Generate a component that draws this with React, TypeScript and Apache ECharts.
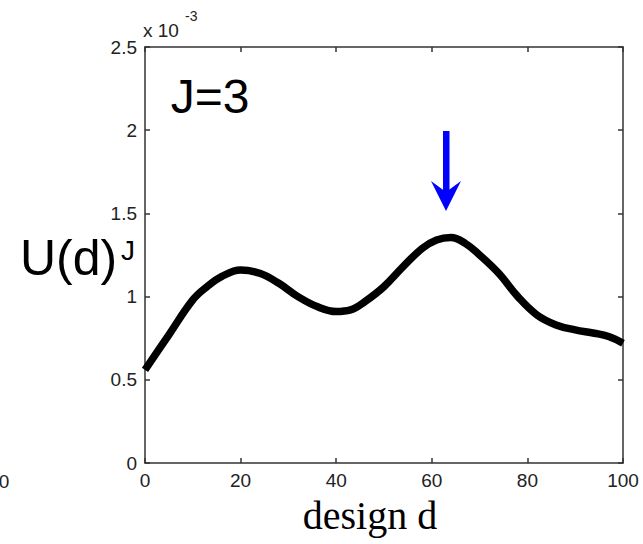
import React, { useEffect, useRef } from "react";
import * as echarts from "echarts";

// design d values and expected utility U(d)^J (in units of 1e-3)
const designD = [0, 5, 10, 13, 16, 20, 24, 28, 32, 36, 40, 43, 46, 50, 54, 58, 61, 64, 67, 70, 74, 78, 82, 86, 90, 94, 97, 100];
const utility = [0.56, 0.77, 0.98, 1.06, 1.12, 1.16, 1.14, 1.08, 1.0, 0.94, 0.91, 0.92, 0.97, 1.06, 1.18, 1.29, 1.34, 1.355, 1.32, 1.25, 1.14, 1.0, 0.89, 0.83, 0.8, 0.78, 0.76, 0.72];
const yTickLabels = ["0", "0.5", "1", "1.5", "2", "2.5"];
const xTickLabels = ["0", "20", "40", "60", "80", "100"];

const SANS = "'Liberation Sans', Arial, Helvetica, sans-serif";
const SERIF = "'Liberation Serif', 'Times New Roman', serif";

export default function App() {
  const ref = useRef<HTMLDivElement>(null);
  useEffect(() => {
    document.body.style.margin = "0";
    const chart = echarts.init(ref.current!, null, { renderer: "svg" });
    const axisColor = "#333";
    const lineStyle = { color: axisColor, width: 1.5 };
    const tickStyle = { show: true, inside: true, length: 5, lineStyle };
    const option: any = {
      animation: false,
      backgroundColor: "#fff",
      grid: { left: 145, top: 47, right: 20, bottom: 81, containLabel: false },
      xAxis: [
        {
          type: "value",
          min: 0,
          max: 100,
          interval: 20,
          position: "bottom",
          axisLine: { show: true, onZero: false, lineStyle },
          axisTick: tickStyle,
          splitLine: { show: false },
          axisLabel: {
            margin: 8,
            color: "#222",
            fontSize: 19,
            fontFamily: SANS,
            formatter: (v: number) => xTickLabels[Math.round(v / 20)] ?? "",
          },
        },
        {
          type: "value",
          min: 0,
          max: 100,
          interval: 20,
          position: "top",
          axisLine: { show: true, onZero: false, lineStyle },
          axisTick: tickStyle,
          splitLine: { show: false },
          axisLabel: { show: false },
        },
      ],
      yAxis: [
        {
          type: "value",
          min: 0,
          max: 2.5,
          interval: 0.5,
          position: "left",
          axisLine: { show: true, onZero: false, lineStyle },
          axisTick: tickStyle,
          splitLine: { show: false },
          axisLabel: {
            margin: 8,
            color: "#222",
            fontSize: 19,
            fontFamily: SANS,
            formatter: (v: number) => yTickLabels[Math.round(v / 0.5)] ?? "",
          },
        },
        {
          type: "value",
          min: 0,
          max: 2.5,
          interval: 0.5,
          position: "right",
          axisLine: { show: true, onZero: false, lineStyle },
          axisTick: tickStyle,
          splitLine: { show: false },
          axisLabel: { show: false },
        },
      ],
      series: [
        {
          type: "line",
          data: designD.map((d, i) => [d, utility[i]]),
          smooth: 0.4,
          showSymbol: false,
          lineStyle: { color: "#000", width: 7.5 },
          xAxisIndex: 0,
          yAxisIndex: 0,
        },
      ],
      graphic: [
        { type: "text", x: 143, y: 30, style: { text: "x 10", font: `19px ${SANS}`, fill: "#222", textAlign: "left", textVerticalAlign: "middle" } },
        { type: "text", x: 185, y: 15.5, style: { text: "-3", font: `14px ${SANS}`, fill: "#222", textAlign: "left", textVerticalAlign: "middle" } },
        { type: "text", x: 210, y: 96, style: { text: "J=3", font: `48px ${SANS}`, fill: "#000", textAlign: "center", textVerticalAlign: "middle" } },
        { type: "text", x: 20, y: 258, style: { text: "U(d)", font: `50px ${SANS}`, fill: "#000", textAlign: "left", textVerticalAlign: "middle" } },
        { type: "text", x: 121, y: 250, style: { text: "J", font: `28px ${SANS}`, fill: "#000", textAlign: "left", textVerticalAlign: "middle" } },
        { type: "text", x: 370, y: 515, style: { text: "design d", font: `40px ${SERIF}`, fill: "#000", textAlign: "center", textVerticalAlign: "middle" } },
        { type: "text", x: 4, y: 481, style: { text: "0", font: `19px ${SANS}`, fill: "#222", textAlign: "center", textVerticalAlign: "middle" } },
        { type: "rect", shape: { x: 443, y: 131, width: 6.5, height: 62 }, style: { fill: "#0000ff" } },
        { type: "polygon", shape: { points: [[431, 181], [446, 192], [461, 181], [446, 211]] }, style: { fill: "#0000ff" } },
      ],
    };
    chart.setOption(option);
    return () => chart.dispose();
  }, []);
  return <div ref={ref} style={{ position: "absolute", left: 0, top: 0, width: 643, height: 544 }} />;
}
